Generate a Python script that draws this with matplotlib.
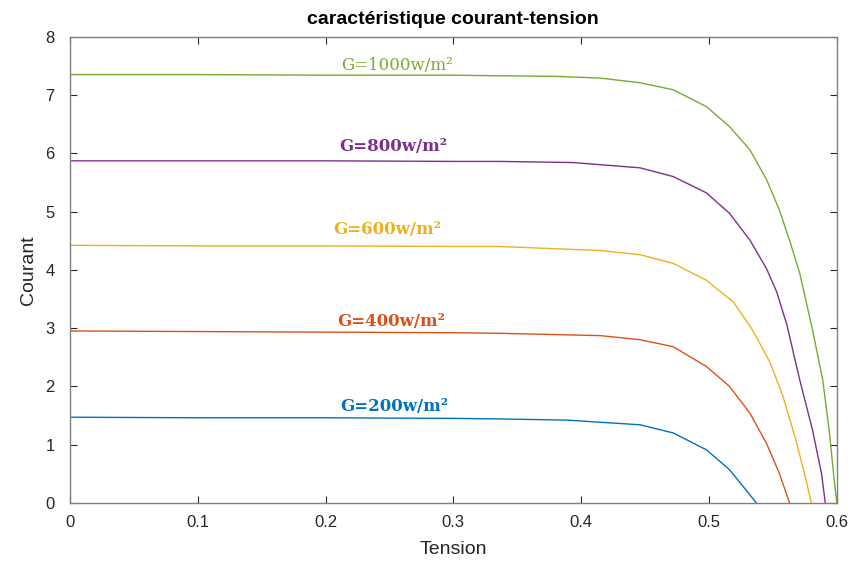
import matplotlib.pyplot as plt
import numpy as np

# valeurs (tension en V, courant en A)
v_1000 = [0.0, 0.10, 0.20, 0.30, 0.336, 0.38, 0.415, 0.446, 0.472, 0.498, 0.516, 0.532, 0.545, 0.555,
          0.563, 0.571, 0.581, 0.589, 0.594, 0.598, 0.600]
i_1000 = [7.35, 7.35, 7.34, 7.34, 7.33, 7.32, 7.29, 7.21, 7.09, 6.80, 6.46, 6.06, 5.55, 5.03,
          4.51, 3.94, 2.97, 2.11, 1.25, 0.39, 0.0]

v_800 = [0.0, 0.10, 0.20, 0.30, 0.336, 0.394, 0.446, 0.472, 0.498, 0.516, 0.532, 0.545, 0.553,
         0.561, 0.571, 0.581, 0.588, 0.591]
i_800 = [5.87, 5.87, 5.87, 5.86, 5.86, 5.84, 5.75, 5.60, 5.32, 4.97, 4.51, 4.02, 3.62,
         3.05, 2.11, 1.25, 0.51, 0.0]

v_600 = [0.0, 0.10, 0.20, 0.30, 0.336, 0.415, 0.446, 0.472, 0.498, 0.508, 0.519, 0.534, 0.548,
         0.558, 0.568, 0.576, 0.580]
i_600 = [4.42, 4.41, 4.41, 4.40, 4.40, 4.33, 4.26, 4.11, 3.82, 3.64, 3.45, 2.97, 2.40,
         1.82, 1.08, 0.39, 0.0]

v_400 = [0.0, 0.10, 0.20, 0.30, 0.336, 0.415, 0.446, 0.472, 0.498, 0.516, 0.532, 0.545, 0.555, 0.563]
i_400 = [2.95, 2.94, 2.93, 2.92, 2.91, 2.87, 2.80, 2.68, 2.34, 2.00, 1.54, 1.02, 0.51, 0.0]

v_200 = [0.0, 0.10, 0.20, 0.30, 0.336, 0.389, 0.446, 0.472, 0.498, 0.516, 0.529, 0.537]
i_200 = [1.47, 1.46, 1.46, 1.45, 1.44, 1.42, 1.34, 1.20, 0.91, 0.57, 0.22, 0.0]

labels = ['G=200w/m²', 'G=400w/m²', 'G=600w/m²', 'G=800w/m²', 'G=1000w/m²']
label_x = [0.254, 0.251, 0.248, 0.253, 0.256]
label_y = [1.65, 3.11, 4.69, 6.11, 7.50]
label_w = ['bold', 'bold', 'bold', 'bold', 'normal']

colors = ['#0072BD', '#D95319', '#EDB120', '#7E2F8E', '#77AC30']
curves = [(v_200, i_200), (v_400, i_400), (v_600, i_600), (v_800, i_800), (v_1000, i_1000)]

plt.rcParams['font.family'] = ['Liberation Sans', 'DejaVu Sans']

fig = plt.figure(figsize=(8.53, 5.65), dpi=100)
ax = fig.add_axes([0.082, 0.110, 0.899, 0.825])

for (v, i), c in zip(curves, colors):
    ax.plot(v, i, color=c, linewidth=1.0)

for txt, x, y, c, w in zip(labels, label_x, label_y, colors, label_w):
    ax.text(x, y, txt, color=c, fontsize=12, fontweight=w,
            family=['DejaVu Serif'], ha='center', va='center')

ax.set_xlim(0, 0.6)
ax.set_ylim(0, 8)
ax.set_xticks(np.arange(0, 0.61, 0.1))
ax.set_xticklabels(['0', '0.1', '0.2', '0.3', '0.4', '0.5', '0.6'])
ax.set_yticks(range(0, 9))
ax.tick_params(direction='in', length=5, width=0.8, colors='#262626', labelsize=12,
               top=True, right=True)
ax.tick_params(axis='x', pad=9)
ax.tick_params(axis='y', pad=11)
for s in ax.spines.values():
    s.set_color('#808080')
    s.set_linewidth(1.0)

ax.set_xlabel('Tension', fontsize=14, color='#262626', labelpad=8)
ax.set_ylabel('Courant', fontsize=14, color='#262626', labelpad=6)
ax.set_title('caractéristique courant-tension', fontsize=14, fontweight='bold', pad=9)

fig.savefig('out.png', dpi=100)
